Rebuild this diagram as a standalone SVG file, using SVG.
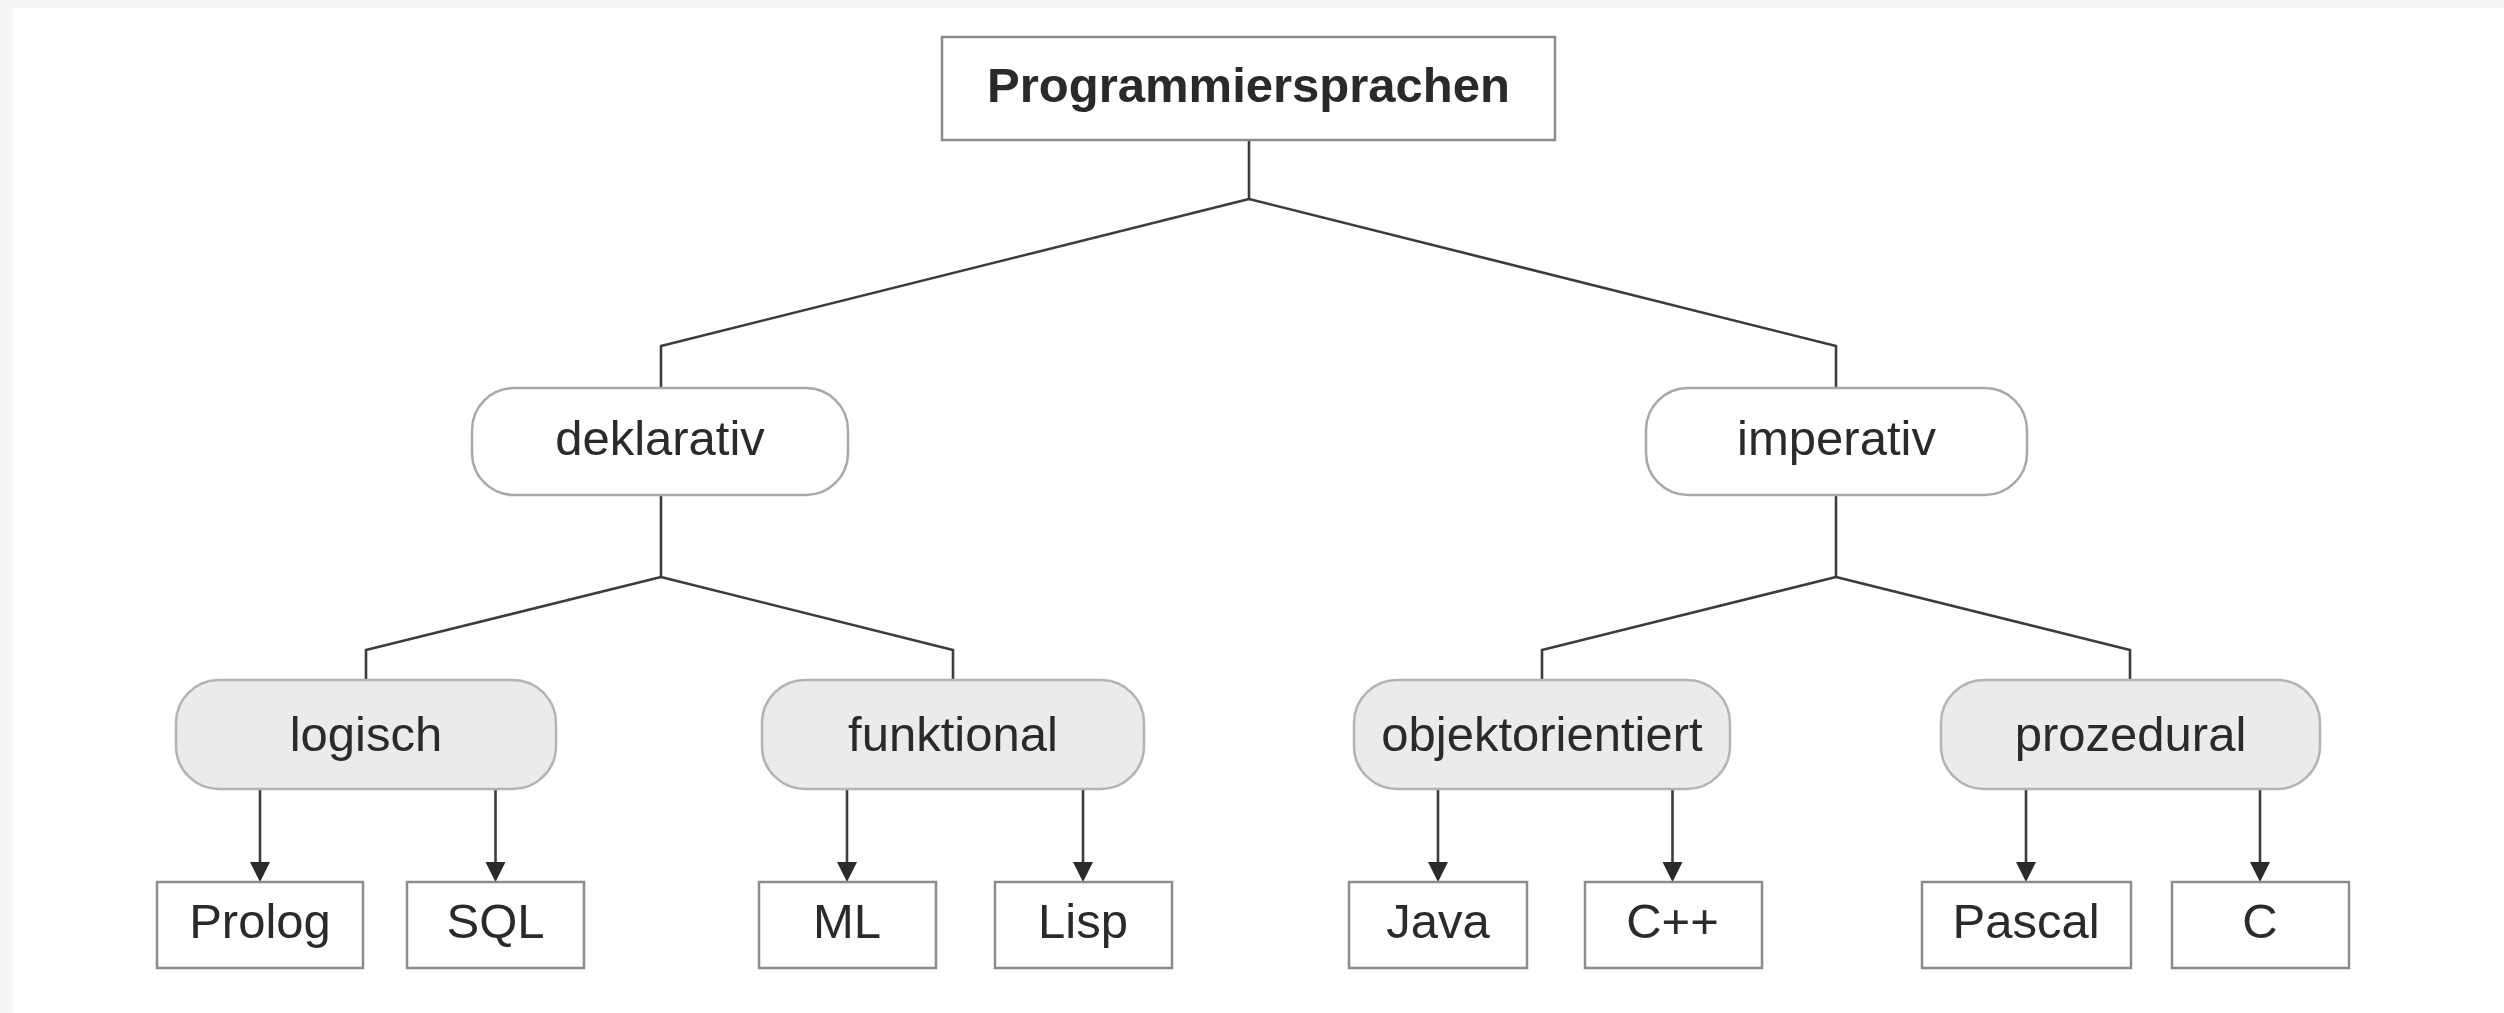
<svg xmlns="http://www.w3.org/2000/svg" width="2504" height="1013" viewBox="0 0 2504 1013">
<defs>
<style>
.t{font-family:"Liberation Sans",Arial,sans-serif;font-size:49px;fill:#2a2a2a;text-anchor:middle}
.b{font-weight:bold}
.box{fill:#fff;stroke:#8c8c8c;stroke-width:2.5}
.r1{fill:#fff;stroke:#a8a8a8;stroke-width:2.5}
.r2{fill:#ebebeb;stroke:#b4b4b4;stroke-width:2.5}
.c{fill:none;stroke:#3c3c3c;stroke-width:2.6;stroke-linejoin:miter}
.ah{fill:#2a2a2a}
</style>
</defs>
<rect x="0" y="0" width="2504" height="1013" fill="#ffffff"/>
<rect x="0" y="0" width="2504" height="8" fill="#f4f5f4"/>
<rect x="0" y="0" width="13" height="1013" fill="#f4f5f4"/>

<g id="connectors">
<path class="c" d="M1249,140 V199 M1249,199 L661,346 V388 M1249,199 L1836,346 V388"/>
<path class="c" d="M661,495 V577 L366,650 V680 M661,577 L953,650 V680"/>
<path class="c" d="M1836,495 V577 L1542,650 V680 M1836,577 L2130,650 V680"/>
<g class="arrows">
<line class="c" x1="260" y1="789" x2="260" y2="870"/>
<line class="c" x1="495.5" y1="789" x2="495.5" y2="870"/>
<line class="c" x1="847" y1="789" x2="847" y2="870"/>
<line class="c" x1="1083" y1="789" x2="1083" y2="870"/>
<line class="c" x1="1438" y1="789" x2="1438" y2="870"/>
<line class="c" x1="1672.5" y1="789" x2="1672.5" y2="870"/>
<line class="c" x1="2026" y1="789" x2="2026" y2="870"/>
<line class="c" x1="2260" y1="789" x2="2260" y2="870"/>
<path class="ah" d="M250,862 L270,862 L260,882 Z M485.5,862 L505.5,862 L495.5,882 Z M837,862 L857,862 L847,882 Z M1073,862 L1093,862 L1083,882 Z M1428,862 L1448,862 L1438,882 Z M1662.5,862 L1682.5,862 L1672.5,882 Z M2016,862 L2036,862 L2026,882 Z M2250,862 L2270,862 L2260,882 Z"/>
</g>
</g>

<g id="root">
<rect class="box" x="942" y="37" width="613" height="103"/>
<text class="t b" x="1248.5" y="102">Programmiersprachen</text>
</g>

<g id="deklarativ">
<rect class="r1" x="472" y="388" width="376" height="107" rx="42" ry="42"/>
<text class="t" x="660" y="455">deklarativ</text>
</g>
<g id="imperativ">
<rect class="r1" x="1646" y="388" width="381" height="107" rx="42" ry="42"/>
<text class="t" x="1836.5" y="455">imperativ</text>
</g>

<g id="logisch">
<rect class="r2" x="176" y="680" width="380" height="109" rx="43" ry="43"/>
<text class="t" x="366" y="751">logisch</text>
</g>
<g id="funktional">
<rect class="r2" x="762" y="680" width="382" height="109" rx="43" ry="43"/>
<text class="t" x="953" y="751">funktional</text>
</g>
<g id="objektorientiert">
<rect class="r2" x="1354" y="680" width="376" height="109" rx="43" ry="43"/>
<text class="t" x="1542" y="751">objektorientiert</text>
</g>
<g id="prozedural">
<rect class="r2" x="1941" y="680" width="379" height="109" rx="43" ry="43"/>
<text class="t" x="2130.5" y="751">prozedural</text>
</g>

<g id="prolog">
<rect class="box" x="157" y="882" width="206" height="86"/>
<text class="t" x="260" y="938">Prolog</text>
</g>
<g id="sql">
<rect class="box" x="407" y="882" width="177" height="86"/>
<text class="t" x="495.5" y="938">SQL</text>
</g>
<g id="ml">
<rect class="box" x="759" y="882" width="177" height="86"/>
<text class="t" x="847" y="938">ML</text>
</g>
<g id="lisp">
<rect class="box" x="995" y="882" width="177" height="86"/>
<text class="t" x="1083" y="938">Lisp</text>
</g>
<g id="java">
<rect class="box" x="1349" y="882" width="178" height="86"/>
<text class="t" x="1438" y="938">Java</text>
</g>
<g id="cpp">
<rect class="box" x="1585" y="882" width="177" height="86"/>
<text class="t" x="1672.5" y="938">C++</text>
</g>
<g id="pascal">
<rect class="box" x="1922" y="882" width="209" height="86"/>
<text class="t" x="2026" y="938">Pascal</text>
</g>
<g id="c">
<rect class="box" x="2172" y="882" width="177" height="86"/>
<text class="t" x="2260" y="938">C</text>
</g>
</svg>
